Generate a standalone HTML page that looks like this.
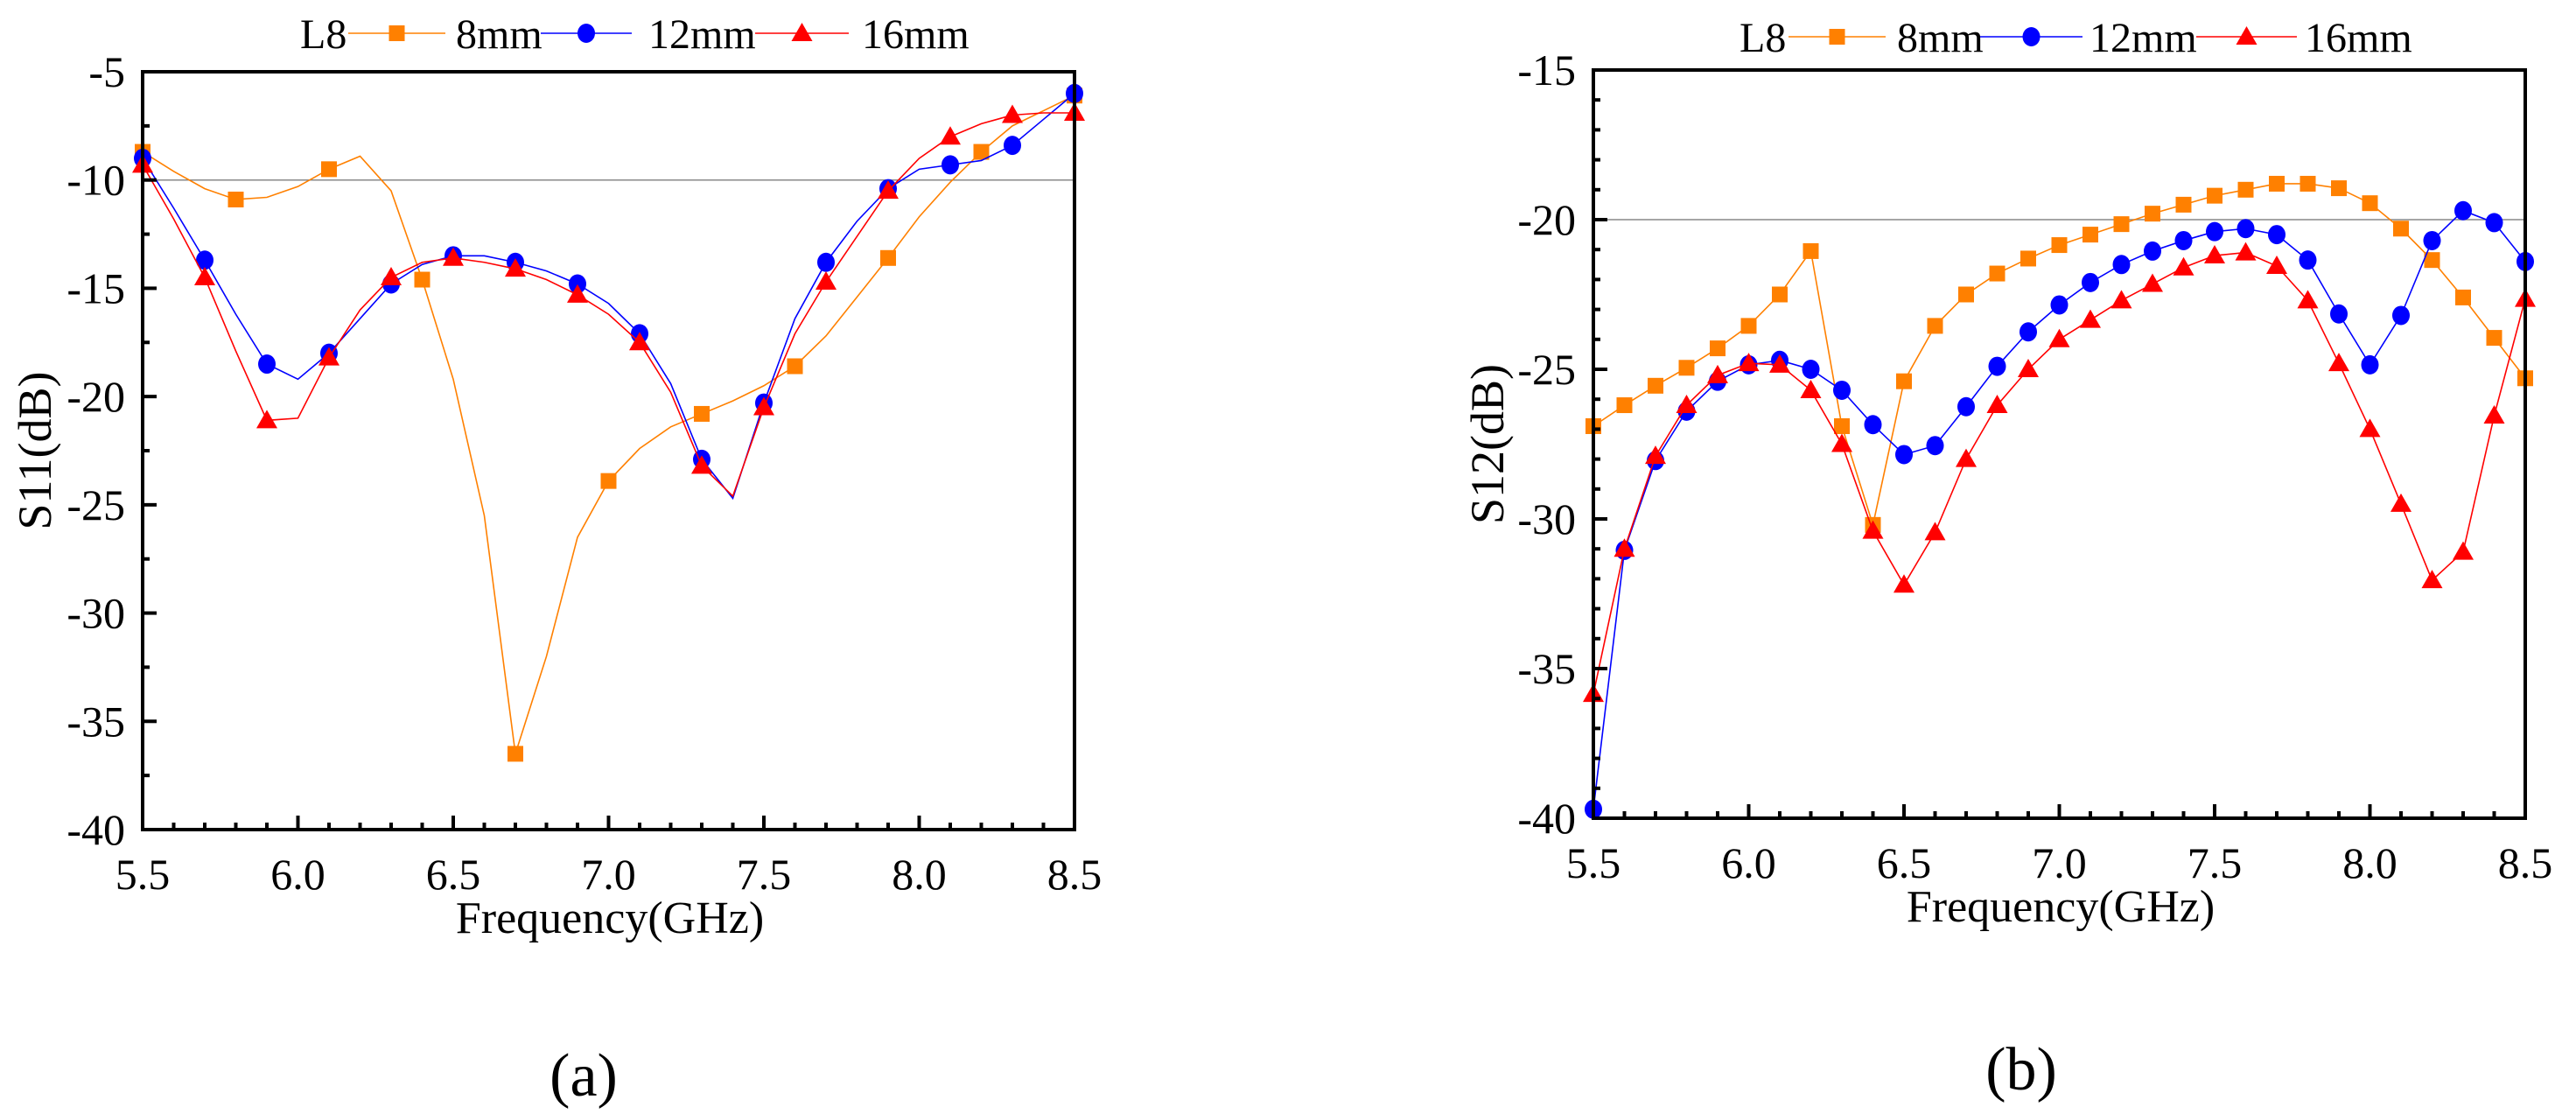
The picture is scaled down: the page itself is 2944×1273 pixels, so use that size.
<!DOCTYPE html>
<html><head><meta charset="utf-8"><style>
html,body{margin:0;padding:0;background:#fff;}
svg, svg text{font-family:"Liberation Serif","Times New Roman",Times,"DejaVu Serif","Noto Serif CJK SC",serif;}
</style></head><body>
<svg id="fig" width="2944" height="1268" viewBox="0 0 2944 1268" xmlns="http://www.w3.org/2000/svg"></svg>
<script>
const freqs = [5.5,5.6,5.7,5.8,5.9,6.0,6.1,6.2,6.3,6.4,6.5,6.6,6.7,6.8,6.9,7.0,7.1,7.2,7.3,7.4,7.5,7.6,7.7,7.8,7.9,8.0,8.1,8.2,8.3,8.4,8.5];
const s11_8mm = [-8.7,-9.6,-10.4,-10.9,-10.8,-10.3,-9.5,-8.9,-10.5,-14.6,-19.2,-25.5,-36.5,-32,-26.5,-23.9,-22.4,-21.4,-20.8,-20.2,-19.5,-18.6,-17.2,-15.4,-13.6,-11.7,-10.1,-8.7,-7.5,-6.8,-6.1];
const s11_12mm = [-9.0,-11.3,-13.7,-16.2,-18.5,-19.2,-18.0,-16.4,-14.8,-13.9,-13.5,-13.5,-13.8,-14.2,-14.8,-15.7,-17.1,-19.4,-22.9,-24.7,-20.3,-16.4,-13.8,-11.9,-10.4,-9.5,-9.3,-9.1,-8.4,-7.2,-6.0];
const s11_16mm = [-9.3,-11.8,-14.5,-17.9,-21.1,-21.0,-18.2,-16.0,-14.5,-13.8,-13.6,-13.8,-14.1,-14.6,-15.3,-16.2,-17.5,-19.8,-23.2,-24.6,-20.5,-17.1,-14.7,-12.6,-10.5,-9.0,-8.0,-7.4,-7.0,-6.9,-6.9];
const s12_8mm = [-26.9,-26.2,-25.55,-24.95,-24.3,-23.55,-22.5,-21.05,-26.9,-30.2,-25.4,-23.55,-22.5,-21.8,-21.3,-20.85,-20.5,-20.15,-19.8,-19.5,-19.2,-19.0,-18.8,-18.8,-18.95,-19.45,-20.3,-21.35,-22.6,-23.95,-25.3];
const s12_12mm = [-39.7,-31.05,-28.05,-26.4,-25.4,-24.85,-24.7,-25.0,-25.7,-26.85,-27.85,-27.55,-26.25,-24.9,-23.75,-22.85,-22.1,-21.5,-21.05,-20.7,-20.4,-20.3,-20.5,-21.35,-23.15,-24.85,-23.2,-20.7,-19.7,-20.1,-21.4];
const s12_16mm = [-35.85,-31.0,-27.9,-26.2,-25.2,-24.8,-24.85,-25.7,-27.5,-30.4,-32.2,-30.45,-28.0,-26.2,-25.0,-24.0,-23.35,-22.7,-22.15,-21.6,-21.2,-21.1,-21.55,-22.7,-24.8,-27.0,-29.5,-32.05,-31.1,-26.55,-22.65];
const xTicks = ["5.5","6.0","6.5","7.0","7.5","8.0","8.5"];
const yTicksA = ["-5","-10","-15","-20","-25","-30","-35","-40"];
const yTicksB = ["-15","-20","-25","-30","-35","-40"];
const legendLabels = ["8mm","12mm","16mm"];

const NS="http://www.w3.org/2000/svg";
const svg=document.getElementById('fig');
const FONT='"Liberation Serif","Times New Roman",Times,"DejaVu Serif","Noto Serif CJK SC",serif';
function mk(tag,attrs,parent){const e=document.createElementNS(NS,tag);for(const k in attrs)e.setAttribute(k,attrs[k]);if(tag==='text'){e.setAttribute('font-family',FONT);e.style.fontFamily=FONT;}(parent||svg).appendChild(e);return e;}
const COL=["#ff8000","#0000ff","#ff0000"];

function marker(g,type,x,y,c){
  let m;
  if(type==="square") m=mk('rect',{x:x-9,y:y-9,width:18,height:18,fill:c},g);
  else if(type==="circle") m=mk('ellipse',{cx:x,cy:y,rx:10,ry:11,fill:c},g);
  else m=mk('polygon',{points:`${x},${y-12} ${x+12},${y+9} ${x-12},${y+9}`,fill:c},g);
  return m;
}

function chart(cfg){
  const g=mk('g',{});
  
  
  const xs=v=>cfg.L+(v-5.5)/3*(cfg.R-cfg.L);
  const ys=v=>cfg.T+(cfg.ymax-v)/(cfg.ymax-cfg.ymin)*(cfg.B-cfg.T);
  const ref=mk('line',{x1:cfg.L,x2:cfg.R,y1:ys(cfg.ref),y2:ys(cfg.ref),stroke:"#888",'stroke-width':1.5},g);
  
  
  const types=["square","circle","triangle"];
  cfg.series.forEach((s,i)=>{
    const sg=mk('g',{},g);
    
    
    const pts=freqs.map((f,j)=>xs(f)+","+ys(s[j])).join(" ");
    mk('polyline',{points:pts,fill:"none",stroke:COL[i],'stroke-width':1.6},sg);
    freqs.forEach((f,j)=>{
      if(j%cfg.step[i]===0){
        const m=marker(sg,types[i],xs(f),ys(s[j]),COL[i]);
        
        
      }
    });
  });
  const box=mk('rect',{x:cfg.L,y:cfg.T,width:cfg.R-cfg.L,height:cfg.B-cfg.T,fill:"none",stroke:"#000",'stroke-width':4},g);
  
  
  for(let k=0;k<=30;k++){
    const v=5.5+k*0.1, x=xs(v), major=k%5===0;
    mk('line',{x1:x,x2:x,y1:cfg.B,y2:cfg.B-(major?16:8),stroke:"#000",'stroke-width':4},g);
  }
  xTicks.forEach(t=>{
    const tx=mk('text',{x:xs(parseFloat(t)),y:cfg.B+68,'text-anchor':'middle','font-size':50},g);
    tx.textContent=t;
    
    
  });
  const nMinor=Math.round((cfg.ymax-cfg.ymin)/cfg.minor);
  for(let k=0;k<=nMinor;k++){
    const v=cfg.ymax-k*cfg.minor, y=ys(v), major=Math.abs(v%5)<1e-6;
    mk('line',{x1:cfg.L,x2:cfg.L+(major?16:8),y1:y,y2:y,stroke:"#000",'stroke-width':4},g);
  }
  cfg.yTicks.forEach(t=>{
    const ty=mk('text',{x:cfg.L-20,y:ys(parseFloat(t))+17,'text-anchor':'end','font-size':50},g);
    ty.textContent=t;
    
    
  });
  const xt=mk('text',{x:cfg.xtx,y:cfg.B+118,'text-anchor':'middle','font-size':52},g);
  xt.textContent="Frequency(GHz)";
  
  
  const yt=mk('text',{x:0,y:0,'text-anchor':'middle','font-size':54,transform:`translate(${cfg.ytx},${(cfg.T+cfg.B)/2}) rotate(-90)`},g);
  yt.textContent=cfg.ytitle;
  
  
  const lg=mk('g',{},g);
  
  
  const l8=mk('text',{x:cfg.leg.l8,y:cfg.leg.y+17,'font-size':48},lg);
  l8.textContent="L8";
  cfg.leg.items.forEach((it,i)=>{
    const eg=mk('g',{},lg);
    
    
    mk('line',{x1:it[0],x2:it[1],y1:cfg.leg.y,y2:cfg.leg.y,stroke:COL[i],'stroke-width':1.6},eg);
    marker(eg,types[i],(it[0]+it[1])/2,cfg.leg.y,COL[i]);
    const lt=mk('text',{x:it[2],y:cfg.leg.y+17,'font-size':48},eg);
    lt.textContent=legendLabels[i];
  });
  const pl=mk('text',{x:cfg.plx,y:cfg.ply,'text-anchor':'middle','font-size':70},g);
  pl.textContent=cfg.panel;
  
  
}

chart({name:'chart-s11',L:163,R:1228,T:82,B:948,ymax:-5,ymin:-40,minor:2.5,ref:-10,
  series:[s11_8mm,s11_12mm,s11_16mm],step:[3,2,2],yTicks:yTicksA,ytitle:"S11(dB)",ytx:58,xtx:697,
  leg:{y:38,l8:343,items:[[398,509,521],[618,722,741],[863,970,985]]},panel:"(a)",plx:667,ply:1252});
chart({name:'chart-s12',L:1821,R:2886,T:80,B:935,ymax:-15,ymin:-40,minor:1,ref:-20,
  series:[s12_8mm,s12_12mm,s12_16mm],step:[1,1,1],yTicks:yTicksB,ytitle:"S12(dB)",ytx:1718,xtx:2355,
  leg:{y:42,l8:1988,items:[[2044,2155,2168],[2263,2380,2388],[2510,2625,2634]]},panel:"(b)",plx:2310,ply:1245});
</script>
</body></html>
